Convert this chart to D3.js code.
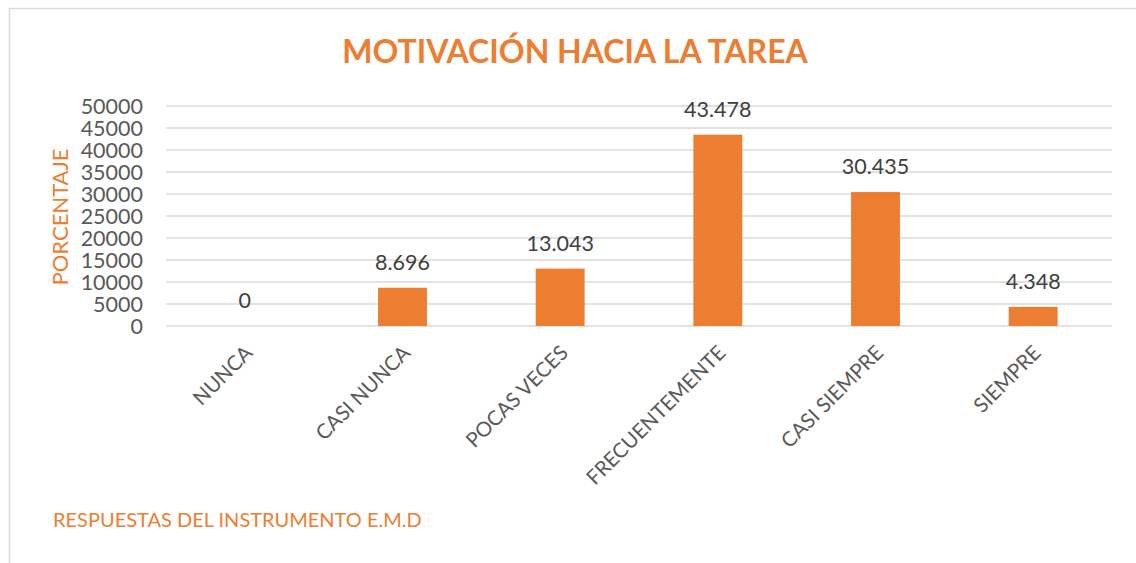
<!DOCTYPE html>
<html><head><meta charset="utf-8">
<script src="https://cdn.jsdelivr.net/npm/d3@7"></script>
<style>body{margin:0;background:#fff}svg{display:block}</style>
</head><body>
<svg id="c" width="1136" height="563"></svg>
<script>
const categories = ["NUNCA","CASI NUNCA","POCAS VECES","FRECUENTEMENTE","CASI SIEMPRE","SIEMPRE"];
const values = [0, 8696, 13043, 43478, 30435, 4348];
const valueLabels = ["0","8.696","13.043","43.478","30.435","4.348"];
const yTicks = [0,5000,10000,15000,20000,25000,30000,35000,40000,45000,50000];
const title = "MOTIVACIÓN HACIA LA TAREA";
const yTitle = "PORCENTAJE";
const xTitle = "RESPUESTAS DEL INSTRUMENTO E.M.D";

const orange = "#ED7D31", grey = "#595959", font = "Lato, 'Open Sans', sans-serif";
const svg = d3.select("#c");
const m = {left:166, right:1112, top:106, bottom:326};

// chart border
svg.append("path").attr("d","M9.5,563 V8.5 H1136").attr("fill","none").attr("stroke","#d9d9d9").attr("stroke-width",1.5);

const x = d3.scaleBand().domain(categories).range([m.left,m.right]).paddingInner(0.69).paddingOuter(0.345);
const y = d3.scaleLinear().domain([0,50000]).range([m.bottom,m.top]);

// gridlines
svg.append("g").selectAll("line").data(yTicks).join("line")
  .attr("x1",m.left).attr("x2",m.right)
  .attr("y1",d=>y(d)).attr("y2",d=>y(d))
  .attr("stroke","#d9d9d9").attr("stroke-width",1.5);

// y axis labels
const yAxis = d3.axisLeft(y).tickValues(yTicks).tickFormat(d3.format("d")).tickSize(0).tickPadding(0);
const ya = svg.append("g").attr("transform",`translate(${143},0)`).call(yAxis);
ya.select(".domain").remove();
ya.selectAll("text").attr("font-family",font).attr("font-size",21.5).attr("fill",grey).attr("dy","0.36em");

// bars
svg.append("g").selectAll("rect").data(values).join("rect")
  .attr("x",(d,i)=>x(categories[i])).attr("width",x.bandwidth())
  .attr("y",d=>y(d)).attr("height",d=>y(0)-y(d)).attr("fill",orange);

// data labels
svg.append("g").selectAll("text").data(values).join("text")
  .attr("x",(d,i)=>x(categories[i])+x.bandwidth()/2).attr("y",d=>y(d)-18)
  .attr("text-anchor","middle").attr("font-family",font).attr("font-size",21.5).attr("fill","#404040")
  .text((d,i)=>valueLabels[i]);

// x axis labels
const xAxis = d3.axisBottom(x).tickSize(0).tickPadding(0);
const xa = svg.append("g").attr("transform",`translate(0,${m.bottom})`).call(xAxis);
xa.select(".domain").remove();
xa.selectAll("text").attr("font-family",font).attr("font-size",20.5).attr("fill",grey)
  .attr("text-anchor","end").attr("dy","0.35em")
  .attr("transform","translate(4,23) rotate(-45)").attr("y",0);

// titles
svg.append("text").attr("x",575).attr("y",63).attr("text-anchor","middle")
  .attr("font-family",font).attr("font-weight","bold").attr("font-size",32).attr("fill",orange).text(title);
svg.append("text").attr("transform","translate(68,217) rotate(-90)").attr("text-anchor","middle")
  .attr("font-family",font).attr("font-size",22).attr("fill",orange).text(yTitle);
svg.append("text").attr("x",53).attr("y",527)
  .attr("font-family",font).attr("font-size",20).attr("fill",orange).text(xTitle);
</script>
</body></html>
